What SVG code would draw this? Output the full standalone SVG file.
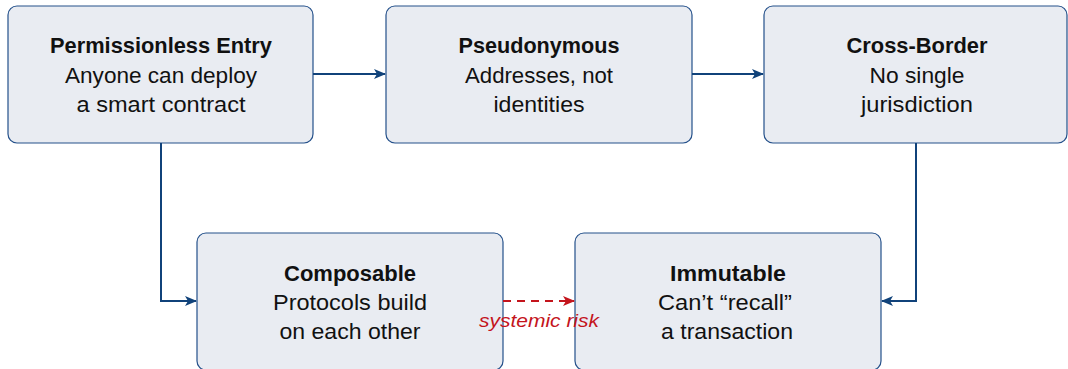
<svg xmlns="http://www.w3.org/2000/svg" width="1068" height="369" viewBox="0 0 1068 369">
<style>
.box{fill:#e9ecf2;stroke:#24508a;stroke-width:1.2}
.t{font-family:"Liberation Sans",Arial,sans-serif;font-size:22px;fill:#111;text-anchor:middle}
.b{font-weight:bold}
.c{fill:none;stroke:#10427a;stroke-width:2}
.d{fill:none;stroke:#c4141c;stroke-width:2;stroke-dasharray:8,6}
.lbl{font-family:"Liberation Sans",Arial,sans-serif;font-size:19px;font-style:italic;fill:#c4141c;text-anchor:middle}
</style>
<defs>
<marker id="ab" viewBox="0 0 12 10" refX="11" refY="5" markerWidth="12" markerHeight="10" markerUnits="userSpaceOnUse" orient="auto">
<path d="M0,0 L12,5 L0,10 L3,5 Z" fill="#10427a"/>
</marker>
<marker id="ar" viewBox="0 0 12 10" refX="11" refY="5" markerWidth="12" markerHeight="10" markerUnits="userSpaceOnUse" orient="auto">
<path d="M0,0 L12,5 L0,10 L3,5 Z" fill="#c4141c"/>
</marker>
</defs>
<g id="n1">
<rect class="box" x="8" y="6" width="305" height="137" rx="9"/>
<text class="t b" x="161" y="53" textLength="222" lengthAdjust="spacingAndGlyphs">Permissionless Entry</text>
<text class="t" x="161" y="83" textLength="192" lengthAdjust="spacingAndGlyphs">Anyone can deploy</text>
<text class="t" x="161" y="112" textLength="169" lengthAdjust="spacingAndGlyphs">a smart contract</text>
</g>
<g id="n2">
<rect class="box" x="386" y="6" width="306" height="137" rx="9"/>
<text class="t b" x="539" y="53" textLength="161" lengthAdjust="spacingAndGlyphs">Pseudonymous</text>
<text class="t" x="539" y="83" textLength="148" lengthAdjust="spacingAndGlyphs">Addresses, not</text>
<text class="t" x="539" y="112" textLength="91" lengthAdjust="spacingAndGlyphs">identities</text>
</g>
<g id="n3">
<rect class="box" x="764" y="6" width="303" height="137" rx="9"/>
<text class="t b" x="917" y="53" textLength="141" lengthAdjust="spacingAndGlyphs">Cross-Border</text>
<text class="t" x="917" y="83" textLength="95" lengthAdjust="spacingAndGlyphs">No single</text>
<text class="t" x="917" y="112" textLength="112" lengthAdjust="spacingAndGlyphs">jurisdiction</text>
</g>
<g id="n4">
<rect class="box" x="197" y="233" width="306" height="137" rx="9"/>
<text class="t b" x="350" y="281" textLength="132" lengthAdjust="spacingAndGlyphs">Composable</text>
<text class="t" x="350" y="310" textLength="154" lengthAdjust="spacingAndGlyphs">Protocols build</text>
<text class="t" x="350" y="339" textLength="141" lengthAdjust="spacingAndGlyphs">on each other</text>
</g>
<g id="n5">
<rect class="box" x="575" y="233" width="306" height="137" rx="9"/>
<text class="t b" x="728" y="281" textLength="116" lengthAdjust="spacingAndGlyphs">Immutable</text>
<text class="t" x="725" y="310" textLength="134" lengthAdjust="spacingAndGlyphs">Can’t “recall”</text>
<text class="t" x="727" y="339" textLength="132" lengthAdjust="spacingAndGlyphs">a transaction</text>
</g>
<g id="connectors">
<path class="c" d="M313,74 H385" marker-end="url(#ab)"/>
<path class="c" d="M692,74 H763" marker-end="url(#ab)"/>
<path class="c" d="M161,143 V301 H196" marker-end="url(#ab)"/>
<path class="c" d="M916,143 V301 H882" marker-end="url(#ab)"/>
<path class="d" d="M503,301 H574" marker-end="url(#ar)"/>
<text class="lbl" x="539" y="327" textLength="120" lengthAdjust="spacingAndGlyphs">systemic risk</text>
</g>
</svg>
